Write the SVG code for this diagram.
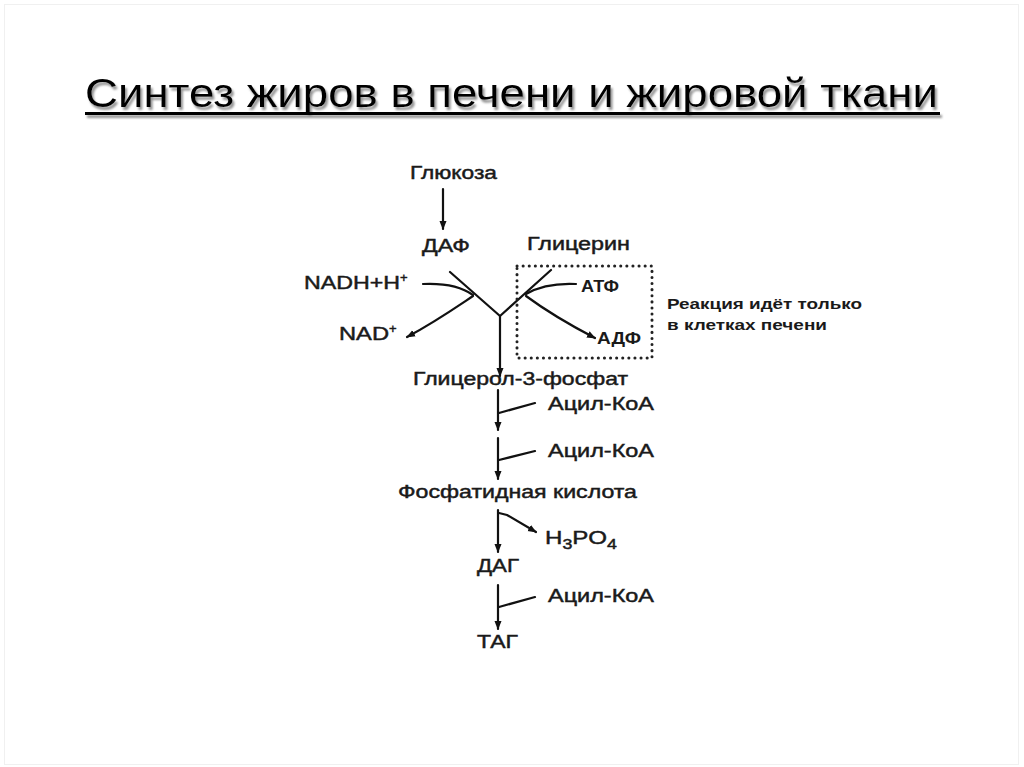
<svg xmlns="http://www.w3.org/2000/svg" width="1024" height="767" viewBox="0 0 1024 767">
<defs>
<style>
.t{font-family:"Liberation Sans",Arial,sans-serif;font-size:18px;fill:#1a1a1a;stroke:#1a1a1a;stroke-width:0.45}
.n{font-family:"Liberation Sans",Arial,sans-serif;font-size:14px;font-weight:bold;fill:#1a1a1a}
.title{font-family:"Liberation Sans",Arial,sans-serif;font-size:41px;fill:#000}
.ln{fill:none;stroke:#111;stroke-width:2.2;stroke-linecap:round;stroke-linejoin:round}
.ar{marker-end:url(#ah)}
</style>
<filter id="sh" x="-5%" y="-30%" width="110%" height="160%">
<feDropShadow dx="2" dy="3" stdDeviation="1" flood-color="#7a7a7a" flood-opacity="0.8"/>
</filter>
<marker id="ah" viewBox="0 0 10 10" refX="9" refY="5" markerWidth="4" markerHeight="4" orient="auto" markerUnits="strokeWidth">
<path d="M0,1 L10,5 L0,9 z" fill="#111"/>
</marker>
</defs>
<rect x="0" y="0" width="1024" height="767" fill="#fff"/>
<rect x="4.5" y="4.5" width="1014" height="760" fill="none" stroke="#f0f0f0" stroke-width="1"/>

<g id="title" filter="url(#sh)">
<text class="title" x="85" y="107" textLength="853" lengthAdjust="spacingAndGlyphs">Синтез жиров в печени и жировой ткани</text>
<rect x="85" y="112" width="855" height="3" fill="#000"/>
</g>

<g id="connectors">
<path class="ln ar" d="M443,189 L443,229"/>
<path class="ln" d="M450,272 L500,316 L551,270"/>
<path class="ln ar" d="M500,316 L500,376"/>
<path class="ln" d="M423,284 C445,283 462,287 473,295"/>
<path class="ln ar" d="M473,296 C455,308 435,322 407,337"/>
<path class="ln" d="M576,284 C555,283 538,287 526,294"/>
<path class="ln ar" d="M526,296 C545,310 568,324 595,338"/>
<rect x="517" y="266" width="135" height="92" fill="none" stroke="#222" stroke-width="3" stroke-dasharray="0.1 6" stroke-linecap="round"/>
<path class="ln ar" d="M498,390 L498,430"/>
<path class="ln" d="M535,403 L499,413"/>
<path class="ln ar" d="M498,438 L498,479"/>
<path class="ln" d="M535,451 L499,460"/>
<path class="ln ar" d="M498,510 L498,552"/>
<path class="ln ar" d="M499,513 L507,515 L536,532"/>
<path class="ln ar" d="M498,585 L498,629"/>
<path class="ln" d="M535,597 L499,607"/>
</g>

<g id="glucose"><text class="t" x="410" y="179" textLength="87" lengthAdjust="spacingAndGlyphs">Глюкоза</text></g>
<g id="daf"><text class="t" x="422" y="252" textLength="48" lengthAdjust="spacingAndGlyphs">ДАФ</text></g>
<g id="glycerin"><text class="t" x="527" y="250" textLength="103" lengthAdjust="spacingAndGlyphs">Глицерин</text></g>
<g id="nadh"><text class="t" x="304" y="289"><tspan textLength="96" lengthAdjust="spacingAndGlyphs">NADH+H</tspan><tspan dy="-7" font-size="13">+</tspan></text></g>
<g id="nad"><text class="t" x="339" y="340"><tspan textLength="50" lengthAdjust="spacingAndGlyphs">NAD</tspan><tspan dy="-7" font-size="13">+</tspan></text></g>
<g id="atf"><text class="t" x="581" y="292" textLength="38" lengthAdjust="spacingAndGlyphs" style="font-size:16px;font-weight:bold;stroke-width:0">АТФ</text></g>
<g id="adf"><text class="t" x="597" y="344" textLength="44" lengthAdjust="spacingAndGlyphs" style="font-size:16px;font-weight:bold;stroke-width:0">АДФ</text></g>
<g id="note">
<text class="n" x="667" y="309" textLength="195" lengthAdjust="spacingAndGlyphs">Реакция идёт только</text>
<text class="n" x="667" y="330" textLength="160" lengthAdjust="spacingAndGlyphs">в клетках печени</text>
</g>
<g id="g3p"><text class="t" x="413" y="385" textLength="215" lengthAdjust="spacingAndGlyphs">Глицерол-3-фосфат</text></g>
<g id="acyl1"><text class="t" x="548" y="410" textLength="106" lengthAdjust="spacingAndGlyphs">Ацил-КоА</text></g>
<g id="acyl2"><text class="t" x="548" y="457" textLength="106" lengthAdjust="spacingAndGlyphs">Ацил-КоА</text></g>
<g id="pa"><text class="t" x="398" y="498" textLength="239" lengthAdjust="spacingAndGlyphs">Фосфатидная кислота</text></g>
<g id="h3po4"><text class="t" x="545" y="544" style="font-size:19px" textLength="72" lengthAdjust="spacingAndGlyphs">H<tspan dy="5" font-size="14">3</tspan><tspan dy="-5">PO</tspan><tspan dy="5" font-size="14">4</tspan></text></g>
<g id="dag"><text class="t" x="477" y="572" textLength="42" lengthAdjust="spacingAndGlyphs">ДАГ</text></g>
<g id="acyl3"><text class="t" x="548" y="602" textLength="106" lengthAdjust="spacingAndGlyphs">Ацил-КоА</text></g>
<g id="tag"><text class="t" x="477" y="648" textLength="41" lengthAdjust="spacingAndGlyphs">ТАГ</text></g>
</svg>
